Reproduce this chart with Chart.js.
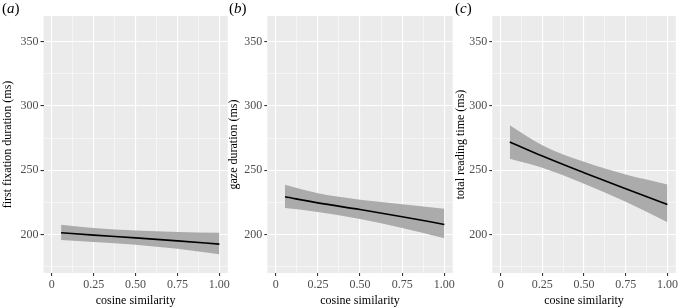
<!DOCTYPE html>
<html>
<head>
<meta charset="utf-8">
<script src="https://cdn.jsdelivr.net/npm/chart.js@4"></script>
<style>
  body { margin: 0; background: #fff; }
  #wrap { position: relative; width: 680px; height: 308px; overflow: hidden; }
  canvas { position: absolute; top: 0; }
  .tag { position: absolute; top: 0; font: 15px "Liberation Serif", serif; color: #000; }
</style>
</head>
<body>
<div id="wrap">
  <canvas id="chartA" width="232" height="308" style="left:0"></canvas>
  <canvas id="chartB" width="231" height="308" style="left:226px"></canvas>
  <canvas id="chartC" width="227" height="308" style="left:453px"></canvas>
  <div class="tag" style="left:2px">(<i>a</i>)</div>
  <div class="tag" style="left:229px">(<i>b</i>)</div>
  <div class="tag" style="left:455px">(<i>c</i>)</div>
</div>
<script>
// cosine similarity values where the fitted curves are read
const xVals = [0.055, 0.25, 0.5, 0.75, 1.0];
const xTicks = [0, 0.25, 0.5, 0.75, 1];
const xLabels = ['0', '0.25', '0.50', '0.75', '1.00'];
const yTicks = [200, 250, 300, 350];

// (a) first fixation duration
const fixFit = [201.3, 199.5, 197.3, 195, 192.5];
const fixUpper = [207.5, 205, 203, 202, 201.3];
const fixLower = [195.6, 194.2, 192, 188.8, 184.5];
// (b) gaze duration
const gazeFit = [229.3, 224.6, 219.4, 213.8, 207.8];
const gazeUpper = [238.6, 232, 227, 223.5, 220];
const gazeLower = [220.5, 217.5, 212, 205, 197];
// (c) total reading time
const totalFit = [272, 261, 248, 235.5, 223.3];
const totalUpper = [285, 269.5, 256.5, 246.6, 238.9];
const totalLower = [259, 252, 239.5, 225.4, 209.5];

const serif = '"Liberation Serif", "Times New Roman", serif';

function pts(ys) {
  return xVals.map((x, i) => ({ x: x, y: ys[i] }));
}

function makePanel(id, yTitle, fit, upper, lower, axisW, padRight) {
  const ctx = document.getElementById(id);
  return new Chart(ctx, {
    type: 'scatter',
    data: {
      datasets: [
        { data: pts(fit), showLine: true, borderColor: '#000', borderWidth: 1.6,
          pointRadius: 0, cubicInterpolationMode: 'monotone', fill: false },
        { data: pts(upper), showLine: true, borderWidth: 0, pointRadius: 0,
          cubicInterpolationMode: 'monotone', fill: '+1', backgroundColor: '#ababab' },
        { data: pts(lower), showLine: true, borderWidth: 0, pointRadius: 0,
          cubicInterpolationMode: 'monotone', fill: false }
      ]
    },
    options: {
      responsive: false,
      animation: false,
      layout: { padding: { top: 16, right: padRight, left: 0, bottom: 0 } },
      plugins: { legend: { display: false }, tooltip: { enabled: false } },
      scales: {
        x: {
          type: 'linear', min: -0.05, max: 1.05,
          afterBuildTicks: (s) => {
            s.ticks = [];
            for (let v = 0; v <= 1.0001; v += 0.125) s.ticks.push({ value: v });
          },
          afterFit: (s) => { s.height = 35; },
          border: { display: false },
          grid: {
            color: '#fff',
            lineWidth: (c) => (c.tick && Math.round(c.tick.value * 8) % 2 === 0 ? 1.1 : 0.5),
            tickColor: (c) => (c.tick && Math.round(c.tick.value * 8) % 2 === 0 ? '#333' : 'rgba(0,0,0,0)'),
            tickLength: 3
          },
          ticks: {
            autoSkip: false, maxRotation: 0, padding: 2,
            color: '#4d4d4d', font: { family: serif, size: 12 },
            callback: (v) => {
              const i = xTicks.findIndex((t) => Math.abs(t - v) < 1e-6);
              return i >= 0 ? xLabels[i] : '';
            }
          },
          title: { display: true, text: 'cosine similarity', color: '#000',
            font: { family: serif, size: 12 }, padding: { top: 1, bottom: 0 } }
        },
        y: {
          min: 170, max: 370,
          afterBuildTicks: (s) => {
            s.ticks = [];
            for (let v = 175; v <= 350; v += 25) s.ticks.push({ value: v });
          },
          afterFit: (s) => { s.width = axisW; },
          border: { display: false },
          grid: {
            color: '#fff',
            lineWidth: (c) => (c.tick && c.tick.value % 50 === 0 ? 1.1 : 0.5),
            tickColor: (c) => (c.tick && c.tick.value % 50 === 0 ? '#333' : 'rgba(0,0,0,0)'),
            tickLength: 3
          },
          ticks: {
            autoSkip: false, padding: 2,
            color: '#4d4d4d', font: { family: serif, size: 12 },
            callback: (v) => (yTicks.includes(v) ? String(v) : '')
          },
          title: { display: true, text: yTitle, color: '#000',
            font: { family: serif, size: 12 }, padding: { top: 1, bottom: 0 } }
        }
      }
    },
    plugins: [{
      id: 'panelBg',
      beforeDraw: (chart) => {
        const a = chart.chartArea;
        chart.ctx.save();
        chart.ctx.fillStyle = '#ebebeb';
        chart.ctx.fillRect(a.left, a.top, a.right - a.left, a.bottom - a.top);
        chart.ctx.restore();
      }
    }]
  });
}

makePanel('chartA', 'first fixation duration (ms)', fixFit, fixUpper, fixLower, 43.5, 3);
makePanel('chartB', 'gaze duration (ms)', gazeFit, gazeUpper, gazeLower, 41.3, 4);
makePanel('chartC', 'total reading time (ms)', totalFit, totalUpper, totalLower, 39.3, 2);
</script>
</body>
</html>
